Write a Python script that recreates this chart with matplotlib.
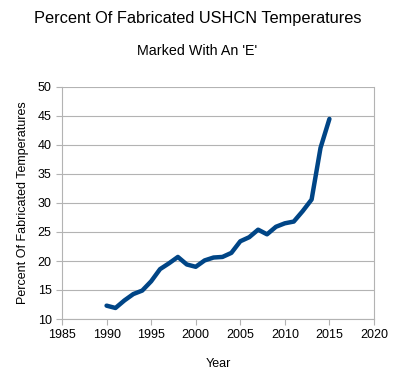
import matplotlib
matplotlib.use("Agg")
import matplotlib.pyplot as plt

years = list(range(1990, 2016))
percent = [12.3, 11.9, 13.2, 14.3, 14.9, 16.5, 18.6, 19.6, 20.7, 19.4, 19.0, 20.1,
           20.6, 20.7, 21.4, 23.4, 24.1, 25.4, 24.6, 25.9, 26.5, 26.8, 28.6, 30.6,
           39.5, 44.5]
xticks = [1985, 1990, 1995, 2000, 2005, 2010, 2015, 2020]
yticks = [10, 15, 20, 25, 30, 35, 40, 45, 50]

plt.rcParams['font.family'] = ['Liberation Sans', 'DejaVu Sans']

fig = plt.figure(figsize=(3.95, 3.77), dpi=100)
ax = fig.add_axes([62/395, 58/377, 312/395, 232/377])
ax.plot(years, percent, color='#004586', linewidth=3.2, solid_capstyle='round', solid_joinstyle='round')
ax.set_xlim(1985, 2020)
ax.set_ylim(10, 50)
ax.set_xticks(xticks)
ax.set_yticks(yticks)
ax.grid(axis='y', color='#b3b3b3', linewidth=0.8)
ax.set_axisbelow(True)
for s in ['left', 'bottom', 'right']:
    ax.spines[s].set_color('#b3b3b3')
    ax.spines[s].set_linewidth(0.8)
ax.spines['top'].set_visible(False)
ax.tick_params(axis='both', colors='#b3b3b3', labelcolor='black', labelsize=9, length=4, width=0.8)
ax.set_xlabel('Year', fontsize=9, labelpad=12)
ax.set_ylabel('Percent Of Fabricated Temperatures', fontsize=9, labelpad=6)
fig.text(0.5, 1 - 18/377, 'Percent Of Fabricated USHCN Temperatures', ha='center', va='center', fontsize=11.8)
fig.text(0.5, 1 - 51/377, "Marked With An 'E'", ha='center', va='center', fontsize=10.3)
fig.savefig('out.png', dpi=100)
